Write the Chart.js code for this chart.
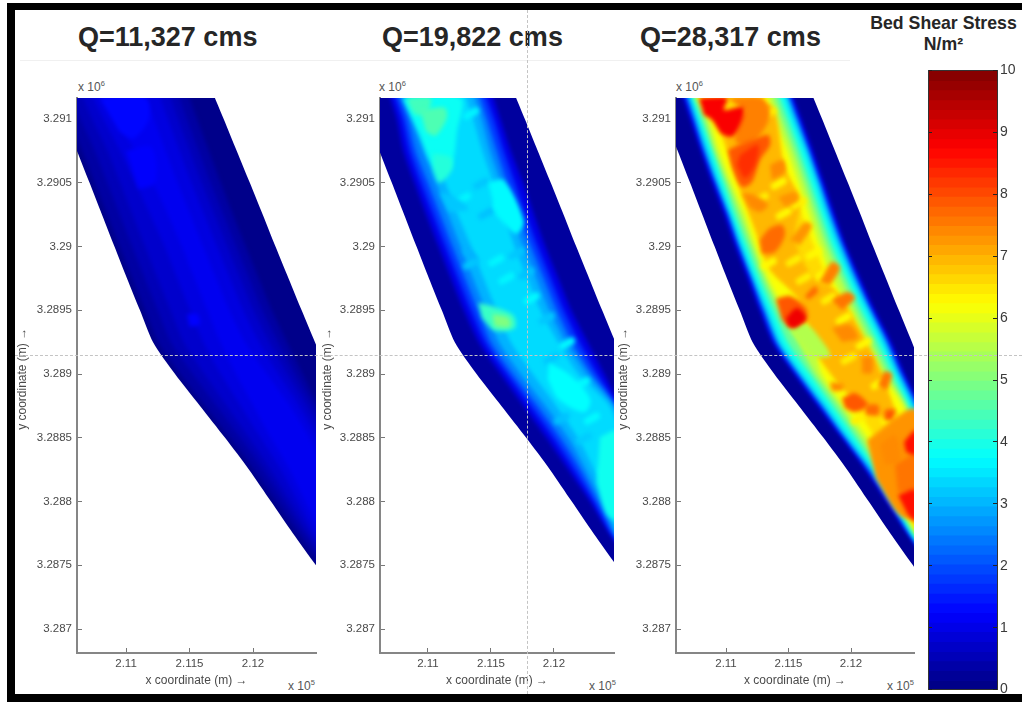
<!DOCTYPE html>
<html><head><meta charset="utf-8">
<style>
html,body{margin:0;padding:0;background:#fff;width:1022px;height:702px;overflow:hidden;font-family:"Liberation Sans",Arial,sans-serif}
canvas{position:absolute}
.t{position:absolute;white-space:nowrap}
.q{font-weight:bold;font-size:27px;color:#262626;top:21px;line-height:32px}
.m{font-size:12px;color:#555;line-height:13px}
.m sup{font-size:7.5px;line-height:0}
.f{position:absolute;background:#000;z-index:9}
.d{position:absolute;z-index:8}
</style></head><body>
<div class="t q" style="left:78px">Q=11,327 cms</div>
<div class="t q" style="left:382px">Q=19,822 cms</div>
<div class="t q" style="left:640px">Q=28,317 cms</div>
<div class="t" style="left:860px;width:167px;text-align:center;top:13px;font-weight:bold;font-size:17.7px;line-height:21px;color:#262626">Bed Shear Stress<br>N/m²</div>
<div class="t m" style="left:78px;top:81px">x 10<sup>6</sup></div>
<div class="t m" style="left:379px;top:81px">x 10<sup>6</sup></div>
<div class="t m" style="left:676px;top:81px">x 10<sup>6</sup></div>
<div class="t m" style="left:288px;top:680px">x 10<sup>5</sup></div>
<div class="t m" style="left:589px;top:680px">x 10<sup>5</sup></div>
<div class="t m" style="left:887px;top:680px">x 10<sup>5</sup></div>
<div class="d" style="left:20px;top:60px;width:830px;height:1px;background:#f0f0f0"></div>
<div class="d" style="left:527px;top:10px;width:0;height:684px;border-left:1px dashed #c4c4c4"></div>
<div class="d" style="left:15px;top:355px;width:1007px;height:0;border-top:1px dashed #c4c4c4"></div>
<div class="f" style="left:7px;top:3px;width:1015px;height:7px"></div>
<div class="f" style="left:7px;top:3px;width:8px;height:699px"></div>
<div class="f" style="left:7px;top:694px;width:1015px;height:8px"></div>
<canvas id="c1" width="310" height="620" style="left:15px;top:75px"></canvas>
<canvas id="c2" width="305" height="620" style="left:318px;top:75px"></canvas>
<canvas id="c3" width="310" height="620" style="left:614px;top:75px"></canvas>
<canvas id="c4" width="102" height="650" style="left:920px;top:55px"></canvas>
<script src="https://cdn.jsdelivr.net/npm/chart.js@4/dist/chart.umd.min.js"></script>
<script>
// All positions are real-world metres (UTM easting / northing); stress in N/m2.
const northing = [3291165,3291000,3290750,3290500,3290250,3290000,3289750,3289500,3289250,3289000,3288750,3288500,3288250,3288000,3287750,3287500];
const leftBank = [210441,210512,210614,210713,210811,210909,211008,211110,211213,211386,211583,211780,211969,212142,212315,212496];
const rightBank = [211700,211769,211872,211975,212077,212177,212280,212383,212488,212590,212693,212795,212898,213000,213102,213205];

const xTicks = [211000,211500,212000];
const xTickLabels = ['2.11','2.115','2.12'];
const yTicks = [3287000,3287500,3288000,3288500,3289000,3289500,3290000,3290500,3291000];
const yTickLabels = ['3.287','3.2875','3.288','3.2885','3.289','3.2895','3.29','3.2905','3.291'];
const colorbarTicks = [0,1,2,3,4,5,6,7,8,9,10];
const colorbarLevels = [0.08,0.23,0.39,0.55,0.70,0.86,1.02,1.17,1.33,1.48,1.64,1.80,1.95,2.11,2.27,2.42,2.58,2.73,2.89,3.05,3.20,3.36,3.52,3.67,3.83,3.98,4.14,4.30,4.45,4.61,4.77,4.92,5.08,5.23,5.39,5.55,5.70,5.86,6.02,6.17,6.33,6.48,6.64,6.80,6.95,7.11,7.27,7.42,7.58,7.73,7.89,8.05,8.20,8.36,8.52,8.67,8.83,8.98,9.14,9.30,9.45,9.61,9.77,9.92];

// Mottled bed forms seen in the higher-flow panels
const bedStreaks = [
 [[211272,3291031],[211384,3291094],[211407,3291051],[211295,3290988]],
 [[211352,3290482],[211464,3290545],[211487,3290502],[211375,3290439]],
 [[211208,3290365],[211320,3290428],[211343,3290385],[211231,3290322]],
 [[211392,3290247],[211504,3290310],[211527,3290267],[211415,3290204]],
 [[211512,3290326],[211624,3290389],[211647,3290346],[211535,3290283]],
 [[211272,3289855],[211384,3289918],[211407,3289875],[211295,3289812]],
 [[211472,3289879],[211584,3289942],[211607,3289899],[211495,3289836]],
 [[211632,3289934],[211744,3289997],[211767,3289954],[211655,3289891]],
 [[211552,3289738],[211664,3289801],[211687,3289758],[211575,3289695]],
 [[211712,3289777],[211824,3289840],[211847,3289797],[211735,3289734]],
 [[211752,3289581],[211864,3289644],[211887,3289601],[211775,3289538]],
 [[211872,3289424],[211984,3289487],[212007,3289444],[211895,3289381]],
 [[212032,3289228],[212144,3289291],[212167,3289248],[212055,3289185]],
 [[211912,3289110],[212024,3289173],[212047,3289130],[211935,3289067]],
 [[212152,3288914],[212264,3288977],[212287,3288934],[212175,3288871]],
 [[211992,3288640],[212104,3288703],[212127,3288660],[212015,3288597]],
 [[212232,3288640],[212344,3288703],[212367,3288660],[212255,3288597]],
 [[212168,3288483],[212280,3288546],[212303,3288503],[212191,3288440]],
 [[212352,3288248],[212464,3288311],[212487,3288268],[212375,3288205]]];
const p2StreakValues = [3.65,3.2,3.65,3.15,3.65,3.2,3.65,3.2,3.65,3.15,3.7,3.2,3.7,3.2,3.7,3.15,3.7,3.25,3.7];
const p3StreakValues = [6.4,6.3,6.4,6.3,6.4,6.3,6.4,6.3,6.4,6.3,6.4,6.3,6.3,6.4,6.3,6.4,6.3,6.4,6.4];

// Panel 1, Q = 11,327 cms: stress contours as distance (m) from each bank at every northing
const p1Base = 0.1;
const p1Levels = [0.35,0.55,0.75,0.95,1.1];
const p1Left = [
 [40,40,40,40,40,40,40,40,40,40,40,40,40,40,40,40],
 [130,130,140,140,140,140,140,140,140,140,130,120,110,100,90,90],
 [220,220,240,240,240,240,240,240,240,230,210,190,170,150,130,130],
 [300,310,340,360,380,395,395,395,395,360,320,280,250,210,170,170],
 [380,400,460,500,520,530,530,530,530,480,420,360,320,270,220,220]];
const p1Right = [
 [200,210,220,230,235,235,235,235,220,200,180,170,170,170,170,170],
 [280,290,300,310,310,310,310,310,290,260,220,200,200,200,200,200],
 [350,360,370,380,380,380,380,380,360,320,270,240,240,240,240,240],
 [430,440,450,460,460,460,460,460,440,390,330,290,290,290,290,290],
 [540,550,560,570,570,570,570,570,550,480,400,350,350,350,350,350]];
const p1Underlay = [];
const p1UnderlayValue = 1.1;
const p1PatchValues = [1.3,1.22,1.25];
const p1PatchShapes = [
 [[210795,3291165],[211150,3291165],[211180,3291000],[211060,3290850],[210950,3290900]],
 [[211000,3290750],[211200,3290780],[211230,3290500],[211100,3290450]],
 [[211480,3289470],[211560,3289470],[211580,3289390],[211500,3289370]]];

// Panel 2, Q = 19,822 cms
const p2Base = 0.3;
const p2Levels = [1.0,1.8,2.5,3.0,3.4];
const p2Left = [
 [260,240,190,180,175,175,175,175,190,190,175,160,145,145,125,125],
 [300,285,240,230,230,230,230,230,240,240,230,215,190,175,140,140],
 [335,325,285,285,285,285,285,285,285,285,285,270,240,205,160,160],
 [365,365,350,350,350,350,350,350,350,350,350,335,285,240,180,180],
 [410,425,425,425,425,435,435,435,445,445,435,410,350,285,205,205]];
const p2Right = [
 [180,195,215,220,235,245,245,245,220,190,170,170,170,170,170,170],
 [235,245,270,285,300,305,305,305,285,245,190,190,190,190,190,190],
 [285,300,325,345,360,360,360,360,345,290,205,205,205,205,205,205],
 [330,345,380,395,410,420,420,420,395,330,220,220,220,220,220,220],
 [395,410,440,455,470,490,490,490,455,395,250,250,250,250,250,250]];
const p2Underlay = [];
const p2UnderlayValue = 3.4;
const p2PatchValues = [3.85,4.4,4.5,4.1,3.7,3.2,3.0,3.75,3.9,4.3,5.0];
const p2PatchShapes = [
 [[210800,3291165],[211260,3291165],[211230,3290900],[211180,3290620],[211050,3290620],[210930,3290880]],
 [[210833,3291165],[211020,3291165],[211000,3291060],[210905,3291030],[210860,3291090]],
 [[210936,3291070],[211130,3291090],[211150,3291010],[211060,3290870],[210985,3290900]],
 [[211040,3290730],[211180,3290700],[211190,3290600],[211090,3290500],[211040,3290600]],
 [[211480,3290500],[211600,3290520],[211760,3290200],[211700,3290100],[211540,3290250]],
 [[211090,3290430],[211230,3290380],[211320,3290290],[211170,3290270]],
 [[211270,3289990],[211350,3289960],[211400,3289900],[211290,3289930]],
 [[211960,3289090],[212130,3288990],[212290,3288800],[212240,3288700],[212040,3288800],[211950,3288960]],
 [[212366,3288507],[212500,3288550],[212500,3287856],[212420,3287900],[212340,3288150]],
 [[211400,3289560],[211520,3289530],[211680,3289460],[211690,3289360],[211530,3289340],[211430,3289440]],
 [[211510,3289470],[211640,3289440],[211650,3289370],[211530,3289370]]];

// Panel 3, Q = 28,317 cms
const p3Base = 0.2;
const p3Levels = [1.0,2.0,3.0,3.9,4.8,5.6,6.2,6.6];
const p3Left = [
 [215,200,185,175,175,165,165,160,160,160,150,145,145,140,135,135],
 [240,225,205,200,200,190,190,180,180,180,175,165,165,155,145,145],
 [255,240,220,215,215,205,205,200,200,200,190,180,180,175,155,155],
 [280,260,240,230,230,220,220,220,220,220,215,200,205,195,170,170],
 [300,290,280,270,260,260,260,270,280,285,270,255,235,210,185,185],
 [320,320,300,300,300,300,300,320,360,330,320,300,270,230,200,200],
 [340,350,330,330,340,330,330,365,475,380,360,350,300,245,215,215],
 [370,395,395,410,410,410,435,550,615,490,455,410,330,260,230,230]];
const p3Right = [
 [160,165,175,190,205,215,205,190,165,160,145,145,145,145,145,145],
 [180,190,200,215,230,235,230,215,190,180,160,160,160,160,160,160],
 [200,205,215,230,245,250,245,230,205,200,175,175,175,175,175,175],
 [220,230,235,250,270,275,270,250,230,220,200,200,200,200,200,200],
 [270,275,285,300,315,325,315,300,275,260,235,235,235,235,235,235],
 [315,325,330,345,360,370,360,345,325,300,255,255,255,255,255,255],
 [360,380,380,395,410,425,425,395,380,345,275,280,280,280,280,280],
 [410,435,455,455,470,470,470,455,435,395,355,315,315,315,315,315]];
const p3Underlay = [[210968,3290914],[211352,3291110],[211472,3290600],[211592,3290365],[211552,3290051],[211712,3289738],[211872,3289659],[212072,3289346],[212232,3289032],[212352,3288640],[212152,3288718],[211912,3288914],[211712,3289189],[211592,3289581],[211352,3289816],[211232,3290130],[211112,3290443]];
const p3UnderlayValue = 6.95;
const p3PatchValues = [7.5,8.8,7.9,8.3,7.4,7.4,7.3,7.7,7.3,7.5,7.6,7.7,7.9,5.5,8.9,7.3,7.9,7.4,7.6,7.9,7.7,7.4,7.4,7.4,7.6,8.6,8.6];
const p3PatchShapes = [
 [[211008,3291165],[211288,3291165],[211352,3291031],[211272,3290875],[211152,3290796],[211072,3290835],[211152,3291071]],
 [[210784,3291165],[211008,3291165],[210984,3291071],[211136,3291094],[211136,3291008],[211056,3290867],[210968,3290882],[210888,3290992],[210824,3291031]],
 [[211096,3290796],[211336,3290875],[211352,3290796],[211272,3290679],[211208,3290506],[211128,3290467],[211056,3290600],[211016,3290757]],
 [[211112,3290718],[211256,3290796],[211232,3290639],[211152,3290537],[211088,3290639]],
 [[211128,3290420],[211232,3290404],[211336,3290326],[211272,3290271],[211192,3290302]],
 [[211352,3290639],[211456,3290679],[211472,3290584],[211368,3290522]],
 [[211416,3290388],[211552,3290428],[211576,3290365],[211472,3290310]],
 [[211272,3290051],[211352,3290145],[211448,3290169],[211472,3290090],[211392,3289957],[211288,3289941]],
 [[211512,3290051],[211632,3290192],[211688,3290161],[211592,3290012]],
 [[211752,3289722],[211848,3289879],[211912,3289832],[211832,3289698]],
 [[211848,3289581],[211976,3289644],[212032,3289597],[211928,3289502]],
 [[211632,3289612],[211712,3289691],[211736,3289644],[211656,3289581]],
 [[211400,3289589],[211512,3289612],[211640,3289518],[211640,3289408],[211528,3289361],[211448,3289424]],
 [[211512,3289346],[211640,3289393],[211792,3289228],[211832,3289142],[211712,3289126]],
 [[211480,3289440],[211568,3289518],[211640,3289440],[211552,3289361],[211496,3289377]],
 [[212130,3288483],[212520,3288720],[212520,3287880],[212390,3287890],[212200,3288180]],
 [[211928,3288812],[212032,3288851],[212136,3288757],[212032,3288702],[211952,3288734]],
 [[211832,3288938],[211936,3288922],[211936,3288875],[211848,3288867]],
 [[212216,3288906],[212264,3289016],[212328,3289000],[212288,3288875]],
 [[212272,3288718],[212352,3288718],[212328,3288640],[212264,3288640]],
 [[212112,3288757],[212216,3288757],[212216,3288679],[212120,3288679]],
 [[212088,3289134],[212168,3289134],[212168,3289008],[212088,3289008]],
 [[211848,3289361],[211992,3289385],[212056,3289283],[211928,3289251]],
 [[212232,3288444],[212352,3288522],[212392,3288326],[212272,3288287]],
 [[212352,3288287],[212520,3288365],[212520,3288091],[212376,3288075]],
 [[212424,3288468],[212520,3288562],[212520,3288365],[212440,3288389]],
 [[212376,3288052],[212520,3288091],[212520,3287840],[212456,3287895]]];

function jet(v){
  const t = Math.max(0, Math.min(1, v/10));
  const seg = (a)=>Math.max(0, Math.min(1, 1.5 - Math.abs(4*t - a)));
  const r = seg(3), g = seg(2), b = seg(1);
  return `rgb(${Math.round(r*255)},${Math.round(g*255)},${Math.round(b*255)})`;
}
function band(v, pts, tension){
  return {data: pts, backgroundColor: jet(v), borderColor:'transparent', borderWidth:0,
          showLine:true, fill:'shape', pointRadius:0, pointHoverRadius:0, tension, capBezierPoints:false};
}
// Closes a contour off-chart, so its smoothed corners never show inside the plot.
function beyond(p, q){ return {x:2*p.x-q.x, y:2*p.y-q.y}; }
function contour(lo, ro){
  const a = northing.map((n,i)=>({x:leftBank[i]+lo[i], y:n}));
  const b = northing.map((n,i)=>({x:rightBank[i]-ro[i], y:n}));
  const m = a.length-1;
  return [beyond(a[0],a[1]),...a,beyond(a[m],a[m-1]),beyond(b[m],b[m-1]),...b.slice().reverse(),beyond(b[0],b[1])];
}
function shape(s){ return s.map(p=>({x:p[0], y:p[1]})); }
function panelDatasets(base, levels, left, right, underlay, underlayValue, streakValues, patchValues, patchShapes){
  const zero = northing.map(()=>0);
  const list = [band(base, contour(zero, zero), 0.25)];
  levels.forEach((v,k)=>list.push(band(v, contour(left[k], right[k]), 0.25)));
  if (underlay.length) list.push(band(underlayValue, shape(underlay), 0.3));
  streakValues.forEach((v,k)=>list.push(band(v, shape(bedStreaks[k]), 0.3)));
  patchValues.forEach((v,k)=>list.push(band(v, shape(patchShapes[k]), 0.3)));
  list.forEach((d,i)=>{ d.order = list.length - i; });
  return list;
}
// The river outline stays nearly crisp; everything inside it is softened.
const softEdges = {
  id:'softEdges',
  beforeDatasetsDraw(c){ c.ctx.filter = 'blur(0.7px)'; },
  afterDatasetDraw(c){ c.ctx.filter = 'blur(2.2px)'; },
  afterDatasetsDraw(c){ c.ctx.filter = 'none'; }
};
const ink = '#4a4a4a';
function panel(id, datasets, xMin, xMax, rightPad, titlePad){
  return new Chart(document.getElementById(id), {
    type:'scatter',
    data:{datasets},
    plugins:[softEdges],
    options:{
      responsive:false, animation:false, events:[],
      layout:{padding:{top:23, right:rightPad, left:0, bottom:0}},
      plugins:{legend:{display:false}, tooltip:{enabled:false}, title:{display:false}},
      scales:{
        x:{type:'linear', min:xMin, max:xMax,
           afterBuildTicks(s){ s.ticks = xTicks.map(value=>({value})); },
           afterFit(s){ s.height = 42; },
           ticks:{autoSkip:false, maxRotation:0, color:ink, padding:9, font:{family:'"Liberation Sans"',size:11.5},
                  callback(v,i){ return xTickLabels[i]; }},
           grid:{drawOnChartArea:false, tickLength:-5, tickColor:'#777', tickWidth:1},
           border:{color:'#868686', width:2},
           title:{display:true, text:'x coordinate (m) →', color:ink, padding:{top:0,bottom:8},
                  font:{family:'"Liberation Sans"',size:12,lineHeight:1.1}}},
        y:{type:'linear', min:3286812, max:3291165,
           afterBuildTicks(s){ s.ticks = yTicks.map(value=>({value})); },
           afterFit(s){ s.width = 62; },
           ticks:{autoSkip:false, color:ink, padding:10, font:{family:'"Liberation Sans"',size:11.5},
                  callback(v,i){ return yTickLabels[i]; }},
           grid:{drawOnChartArea:false, tickLength:-5, tickColor:'#777', tickWidth:1},
           border:{color:'#868686', width:2},
           title:{display:true, text:'y coordinate (m) →\u00a0\u00a0', color:ink, padding:{top:titlePad,bottom:0},
                  font:{family:'"Liberation Sans"',size:12,lineHeight:1.1}}}
      }
    }
  });
}
panel('c1', panelDatasets(p1Base,p1Levels,p1Left,p1Right,p1Underlay,p1UnderlayValue,[],p1PatchValues,p1PatchShapes), 210614, 212496, 9, 1);
panel('c2', panelDatasets(p2Base,p2Levels,p2Left,p2Right,p2Underlay,p2UnderlayValue,p2StreakValues,p2PatchValues,p2PatchShapes), 210619, 212477, 9, 3);
panel('c3', panelDatasets(p3Base,p3Levels,p3Left,p3Right,p3Underlay,p3UnderlayValue,p3StreakValues,p3PatchValues,p3PatchShapes), 210600, 212504, 10, 3);

new Chart(document.getElementById('c4'), {
  type:'bar',
  data:{datasets:[{
    data: colorbarLevels.map(v=>({y:v, x:1})),
    backgroundColor: colorbarLevels.map(jet),
    barPercentage:1, categoryPercentage:1, borderWidth:0, inflateAmount:1
  }]},
  options:{
    indexAxis:'y', responsive:false, animation:false, events:[],
    layout:{autoPadding:false, padding:{top:5,bottom:5}},
    plugins:{legend:{display:false}, tooltip:{enabled:false}},
    scales:{
      x:{type:'linear', min:0, max:1, display:true, afterFit(s){ s.height=0; },
         ticks:{display:false}, grid:{display:false}, border:{color:'#333', z:2}},
      x2:{type:'linear', position:'top', min:0, max:1, display:true, afterFit(s){ s.height=0; },
         ticks:{display:false}, grid:{display:false}, border:{color:'#333', z:2}},
      y:{type:'linear', position:'right', min:0, max:10, offset:false,
         afterBuildTicks(s){ s.ticks = colorbarTicks.map(value=>({value})); },
         afterFit(s){ s.width=25; },
         ticks:{autoSkip:false, color:'#3a3a3a', padding:7, font:{family:'"Liberation Sans"',size:14}},
         grid:{drawOnChartArea:false, offset:false, tickLength:-4, tickColor:'#222', z:2},
         border:{color:'#333', z:2}},
      y2:{type:'linear', position:'left', min:0, max:10, offset:false,
         afterBuildTicks(s){ s.ticks = colorbarTicks.map(value=>({value})); },
         afterFit(s){ s.width=8; },
         ticks:{display:false},
         grid:{drawOnChartArea:false, offset:false, tickLength:-4, tickColor:'#222', z:2},
         border:{color:'#333', z:2}}
    }
  }
});
</script>
</body></html>
